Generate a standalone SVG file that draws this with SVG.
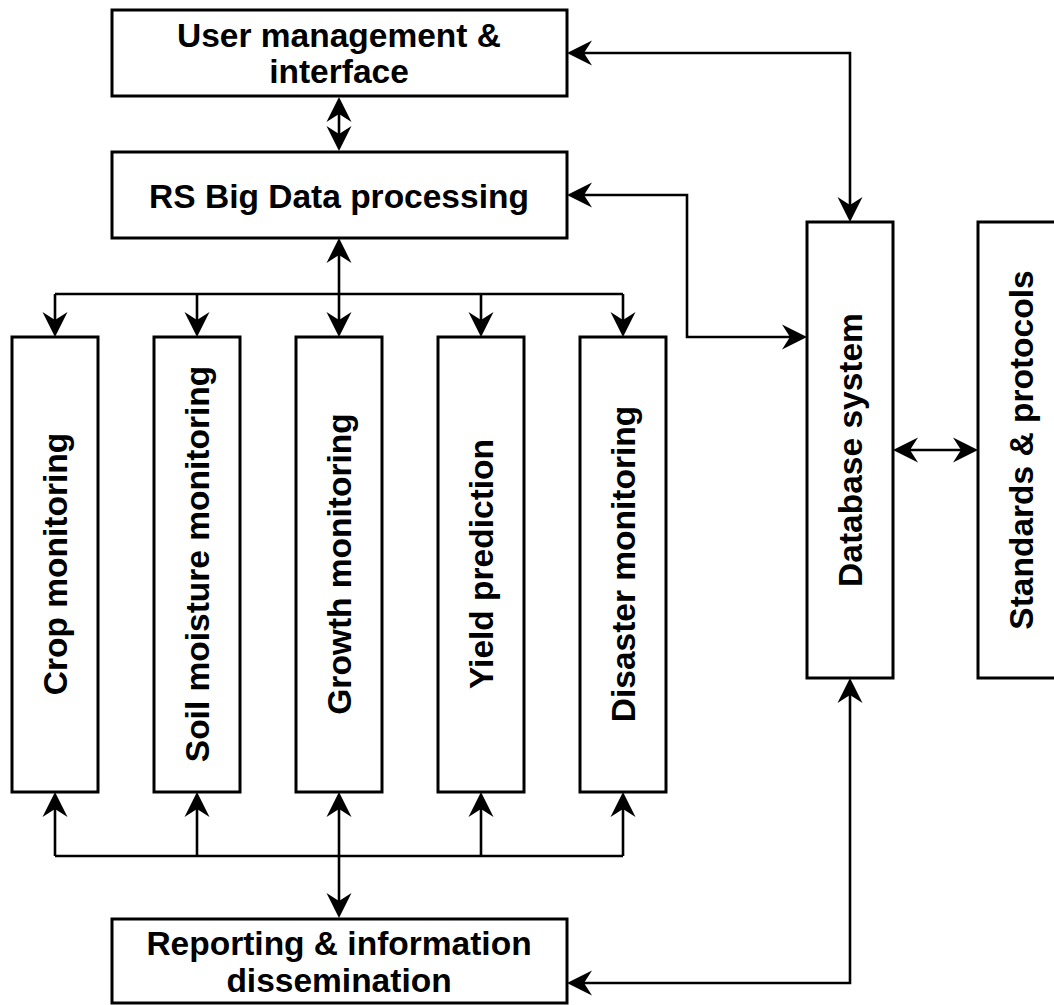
<svg xmlns="http://www.w3.org/2000/svg" width="1054" height="1005" viewBox="0 0 1054 1005">
<defs>
<style>
.box{fill:#fff;stroke:#000;stroke-width:3}
.t{font-family:"Liberation Sans",Arial,Helvetica,sans-serif;font-weight:bold;font-size:33.5px;fill:#000;text-anchor:middle}
.c{fill:none;stroke:#000;stroke-width:2.6;marker-end:url(#ah)}
.cb{fill:none;stroke:#000;stroke-width:2.6;marker-start:url(#ah);marker-end:url(#ah)}
.ln{fill:none;stroke:#000;stroke-width:2.6}
</style>
<marker id="ah" markerUnits="userSpaceOnUse" markerWidth="28" markerHeight="28" viewBox="-17 -14 28 28" refX="0" refY="0" orient="auto-start-reverse">
<path d="M10,0 L-15,-12.5 L-7,0 L-15,12.5 Z" fill="#000"/>
</marker>
</defs>
<rect width="1054" height="1005" fill="#fff"/>

<g id="connectors">
<path class="cb" d="M339,107 V141"/>
<path class="cb" d="M577,195 H687 V337 H797"/>
<path class="cb" d="M577,53 H850 V212"/>
<path class="cb" d="M903,450 H968"/>
<path class="cb" d="M850,688 V983 H577"/>
<path class="cb" d="M339,248 V327"/>
<path class="ln" d="M55,294 H623"/>
<path class="c" d="M55,294 V327"/>
<path class="c" d="M197,294 V327"/>
<path class="c" d="M481,294 V327"/>
<path class="c" d="M623,294 V327"/>
<path class="ln" d="M55,856 H623"/>
<path class="c" d="M55,856 V802"/>
<path class="c" d="M197,856 V802"/>
<path class="c" d="M481,856 V802"/>
<path class="c" d="M623,856 V802"/>
<path class="cb" d="M339,802 V908"/>
</g>

<g id="user">
<rect class="box" x="112" y="10" width="455" height="86"/>
<text class="t" x="339" y="46.5">User management &amp;</text>
<text class="t" x="339" y="82.5">interface</text>
</g>

<g id="rs">
<rect class="box" x="112" y="152" width="455" height="86"/>
<text class="t" x="339" y="207.5">RS Big Data processing</text>
</g>

<g id="crop">
<rect class="box" x="12" y="337" width="86" height="455"/>
<text class="t" transform="translate(55,564) rotate(-90)" x="0" y="12">Crop monitoring</text>
</g>

<g id="soil">
<rect class="box" x="154" y="337" width="86" height="455"/>
<text class="t" transform="translate(197,564) rotate(-90)" x="0" y="12">Soil moisture monitoring</text>
</g>

<g id="growth">
<rect class="box" x="296" y="337" width="86" height="455"/>
<text class="t" transform="translate(339,564) rotate(-90)" x="0" y="12">Growth monitoring</text>
</g>

<g id="yield">
<rect class="box" x="438" y="337" width="86" height="455"/>
<text class="t" transform="translate(481,564) rotate(-90)" x="0" y="12">Yield prediction</text>
</g>

<g id="disaster">
<rect class="box" x="580" y="337" width="86" height="455"/>
<text class="t" transform="translate(623,564) rotate(-90)" x="0" y="12">Disaster monitoring</text>
</g>

<g id="database">
<rect class="box" x="807" y="222" width="86" height="456"/>
<text class="t" transform="translate(850,450) rotate(-90)" x="0" y="12">Database system</text>
</g>

<g id="standards">
<rect class="box" x="978" y="222" width="86" height="456"/>
<text class="t" transform="translate(1021,450) rotate(-90)" x="0" y="12">Standards &amp; protocols</text>
</g>

<g id="reporting">
<rect class="box" x="112" y="919" width="455" height="84"/>
<text class="t" x="339" y="955">Reporting &amp; information</text>
<text class="t" x="339" y="992">dissemination</text>
</g>
</svg>
